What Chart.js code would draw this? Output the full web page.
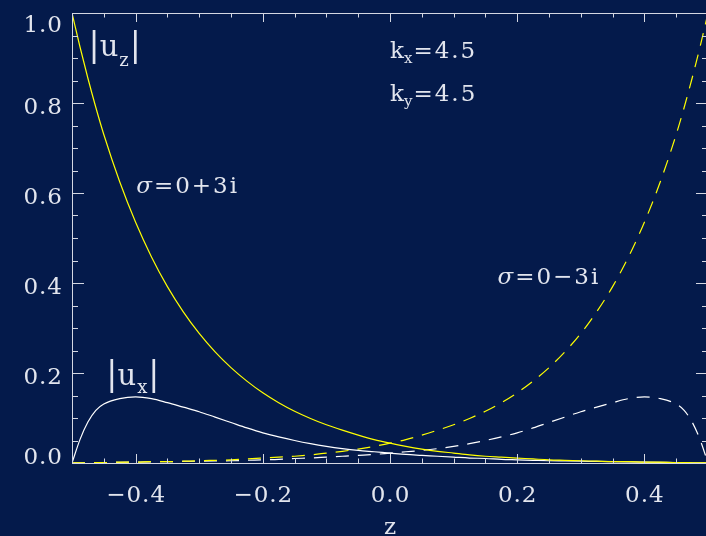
<!DOCTYPE html>
<html>
<head>
<meta charset="utf-8">
<script src="https://cdn.jsdelivr.net/npm/chart.js@4/dist/chart.umd.min.js"></script>
<style>
  html, body { margin: 0; padding: 0; overflow: hidden; background: #041a4b; }
  #wrap { width: 710px; height: 536px; }
</style>
</head>
<body>
<div id="wrap"><canvas id="c"></canvas></div>
<script>
// Vertical coordinate z across the layer
const zGrid = [-0.5, -0.4875, -0.475, -0.4625, -0.45, -0.425, -0.4, -0.375, -0.35, -0.325,
  -0.3, -0.275, -0.25, -0.225, -0.2, -0.175, -0.15, -0.125, -0.1, -0.075, -0.05, -0.025,
  0, 0.025, 0.05, 0.075, 0.1, 0.125, 0.15, 0.175, 0.2, 0.225, 0.25, 0.275, 0.3, 0.325,
  0.35, 0.375, 0.4, 0.425, 0.45, 0.4625, 0.475, 0.4875, 0.5];

// |u_z| and |u_x| for sigma = 0+3i (solid)
const uzPlus = [1.000, 0.925, 0.855, 0.790, 0.730, 0.625, 0.535, 0.458, 0.392, 0.336,
  0.288, 0.247, 0.212, 0.182, 0.156, 0.134, 0.115, 0.099, 0.085, 0.073, 0.062, 0.052,
  0.044, 0.037, 0.031, 0.026, 0.022, 0.018, 0.015, 0.013, 0.011, 0.009, 0.007, 0.006,
  0.005, 0.004, 0.003, 0.003, 0.002, 0.002, 0.001, 0.001, 0.0005, 0.0002, 0.0];
const uxPlus = [0, 0.052, 0.091, 0.117, 0.131, 0.143, 0.147, 0.143, 0.134, 0.124,
  0.114, 0.102, 0.090, 0.078, 0.067, 0.058, 0.050, 0.043, 0.037, 0.032, 0.028, 0.025,
  0.022, 0.019, 0.017, 0.015, 0.013, 0.011, 0.010, 0.008, 0.007, 0.006, 0.005, 0.0045,
  0.004, 0.0035, 0.003, 0.0025, 0.002, 0.0015, 0.001, 0.0008, 0.0005, 0.0002, 0];

// |u_z| and |u_x| for sigma = 0-3i (dashed)
const uzMinus = [0.0, 0.0002, 0.0005, 0.001, 0.001, 0.002, 0.002, 0.003, 0.003, 0.004,
  0.005, 0.006, 0.007, 0.009, 0.011, 0.013, 0.015, 0.018, 0.022, 0.026, 0.031, 0.037,
  0.044, 0.052, 0.062, 0.073, 0.085, 0.099, 0.115, 0.134, 0.156, 0.182, 0.212, 0.247,
  0.288, 0.336, 0.392, 0.458, 0.535, 0.625, 0.730, 0.790, 0.855, 0.925, 1.000];
const uxMinus = [0, 0.0002, 0.0005, 0.0008, 0.001, 0.0015, 0.002, 0.0025, 0.003, 0.0035,
  0.004, 0.0045, 0.005, 0.006, 0.007, 0.008, 0.010, 0.011, 0.013, 0.015, 0.017, 0.019,
  0.022, 0.025, 0.028, 0.032, 0.037, 0.043, 0.050, 0.058, 0.067, 0.078, 0.090, 0.102,
  0.114, 0.124, 0.134, 0.143, 0.147, 0.143, 0.131, 0.117, 0.091, 0.052, 0];

// Axis ticks
const xMajorTicks = [-0.4, -0.2, 0.0, 0.2, 0.4];
const xTickLabels = ['\u22120.4', '\u22120.2', '0.0', '0.2', '0.4'];
const xMinorTicks = [-0.45, -0.35, -0.3, -0.25, -0.15, -0.1, -0.05, 0.05, 0.1, 0.15, 0.25, 0.3, 0.35, 0.45];
const yMajorTicks = [0.0, 0.2, 0.4, 0.6, 0.8, 1.0];
const yTickLabels = ['0.0', '0.2', '0.4', '0.6', '0.8', '1.0'];
const yMinorTicks = [0.05, 0.1, 0.15, 0.25, 0.3, 0.35, 0.45, 0.5, 0.55, 0.65, 0.7, 0.75, 0.85, 0.9, 0.95];
const xTitle = 'z';

const BG = '#041a4b';
const FG = '#e2e5ee';
const AXIS = '#d4d7e2';
const FONT = '"DejaVu Serif", serif';
const TICK_LS = 1;

function pts(ys) { return zGrid.map((z, i) => ({ x: z, y: ys[i] })); }

function line(label, ys, color, dashed) {
  return {
    label, data: pts(ys), borderColor: color, borderWidth: 1.2,
    borderDash: dashed ? [13, 9] : [], pointRadius: 0, fill: false,
    cubicInterpolationMode: 'monotone'
  };
}

// Draw a run of text pieces (sub/superscripts, italics) from a left/baseline anchor
function rich(ctx, x, y, parts) {
  let cx = x;
  for (const p of parts) {
    ctx.font = (p.italic ? 'italic ' : '') + p.size + 'px ' + FONT;
    ctx.letterSpacing = (p.ls || 0) + 'px';
    cx += (p.dx || 0);
    ctx.fillText(p.t, cx, y + (p.dy || 0));
    cx += ctx.measureText(p.t).width;
  }
  ctx.letterSpacing = '0px';
}

const idlFrame = {
  id: 'idlFrame',
  beforeDraw(chart) {
    const ctx = chart.ctx;
    ctx.save();
    ctx.fillStyle = BG;
    ctx.fillRect(0, 0, chart.width, chart.height);
    ctx.restore();
  },
  afterDraw(chart) {
    const ctx = chart.ctx, a = chart.chartArea;
    const xs = chart.scales.x, ys = chart.scales.y;
    ctx.save();
    ctx.strokeStyle = AXIS;
    ctx.lineWidth = 1;
    ctx.strokeRect(a.left + 0.5, a.top + 0.5, a.right - a.left, a.bottom - a.top);

    const tick = (x1, y1, x2, y2) => { ctx.beginPath(); ctx.moveTo(x1, y1); ctx.lineTo(x2, y2); ctx.stroke(); };
    // x ticks, bottom and top, pointing inward
    xMajorTicks.forEach(v => { const px = Math.round(xs.getPixelForValue(v)) + 0.5;
      tick(px, a.bottom, px, a.bottom - 9); tick(px, a.top, px, a.top + 9); });
    xMinorTicks.forEach(v => { const px = Math.round(xs.getPixelForValue(v)) + 0.5;
      tick(px, a.bottom, px, a.bottom - 4.5); tick(px, a.top, px, a.top + 4.5); });
    // y ticks, left and right
    yMajorTicks.forEach(v => { const py = Math.round(ys.getPixelForValue(v)) + 0.5;
      tick(a.left, py, a.left + 12, py); tick(a.right, py, a.right - 12, py); });
    yMinorTicks.forEach(v => { const py = Math.round(ys.getPixelForValue(v)) + 0.5;
      tick(a.left, py, a.left + 6, py); tick(a.right, py, a.right - 6, py); });

    ctx.fillStyle = FG;
    ctx.font = '23px ' + FONT;
    ctx.letterSpacing = TICK_LS + 'px';
    ctx.textBaseline = 'alphabetic';
    // x tick labels
    ctx.textAlign = 'center';
    xMajorTicks.forEach((v, i) => ctx.fillText(xTickLabels[i], xs.getPixelForValue(v) + TICK_LS / 2, a.bottom + 38.5));
    // y tick labels (end labels nudged inside the frame)
    ctx.textAlign = 'right';
    yMajorTicks.forEach((v, i) => {
      const last = yMajorTicks.length - 1;
      const dy = i === 0 ? 1 : (i === last ? 19 : 10.5);
      ctx.fillText(yTickLabels[i], a.left - 10 + TICK_LS, ys.getPixelForValue(v) + dy);
    });
    ctx.letterSpacing = '0px';
    // axis title
    ctx.textAlign = 'center';
    ctx.font = '23px ' + FONT;
    ctx.fillText(xTitle, xs.getPixelForValue(0), chart.height - 2);

    // annotations
    ctx.textAlign = 'left';
    const at = (zx, yv) => [xs.getPixelForValue(zx), ys.getPixelForValue(yv)];
    let p;
    p = at(-0.474, 0.905);
    rich(ctx, p[0], p[1], [{ t: '|', size: 33 }, { t: 'u', size: 29 }, { t: 'z', size: 18, dy: 10, dx: 1 }, { t: '|', size: 33, dx: 1 }]);
    p = at(-0.446, 0.174);
    rich(ctx, p[0], p[1], [{ t: '|', size: 33 }, { t: 'u', size: 29 }, { t: 'x', size: 18, dy: 8, dx: 1 }, { t: '|', size: 33, dx: 1 }]);
    p = at(0.0, 0.901);
    rich(ctx, p[0], p[1], [{ t: 'k', size: 23 }, { t: 'x', size: 15, dy: 5 }, { t: '=4.5', size: 23, ls: 2, dx: 1 }]);
    p = at(0.0, 0.8036);
    rich(ctx, p[0], p[1], [{ t: 'k', size: 23 }, { t: 'y', size: 15, dy: 5 }, { t: '=4.5', size: 23, ls: 2, dx: 1 }]);
    p = at(-0.399, 0.601);
    rich(ctx, p[0], p[1], [{ t: '\u03c3', size: 23, italic: true, ls: 2 }, { t: '=0+3i', size: 23, ls: 2 }]);
    p = at(0.169, 0.398);
    rich(ctx, p[0], p[1], [{ t: '\u03c3', size: 23, italic: true, ls: 2 }, { t: '=0\u22123i', size: 23, ls: 2 }]);
    ctx.restore();
  }
};

new Chart(document.getElementById('c'), {
  type: 'line',
  data: {
    datasets: [
      line('|u_z| \u03c3=0+3i', uzPlus, '#ffff00', false),
      line('|u_x| \u03c3=0+3i', uxPlus, '#ffffff', false),
      line('|u_z| \u03c3=0\u22123i', uzMinus, '#ffff00', true),
      line('|u_x| \u03c3=0\u22123i', uxMinus, '#ffffff', true)
    ]
  },
  options: {
    animation: false,
    responsive: true,
    maintainAspectRatio: false,
    layout: { padding: { left: 72, top: 13, right: 2, bottom: 73 } },
    scales: {
      x: { type: 'linear', min: -0.5, max: 0.5, display: false },
      y: { type: 'linear', min: 0, max: 1, display: false }
    },
    plugins: { legend: { display: false }, tooltip: { enabled: false } }
  },
  plugins: [idlFrame]
});
</script>
</body>
</html>
